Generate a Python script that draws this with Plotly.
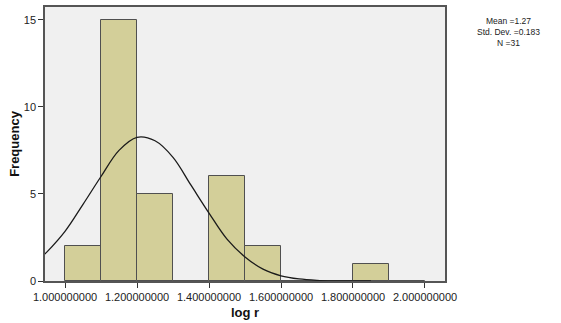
import plotly.graph_objects as go

# Histogram bins (lower edges) and frequencies
bin_starts = [1.0, 1.1, 1.2, 1.3, 1.4, 1.5, 1.6, 1.7, 1.8, 1.9]
counts = [2, 15, 5, 0, 6, 2, 0, 0, 1, 0]
bin_width = 0.1

# Normal curve
curve_x = [0.944, 0.95, 1.0, 1.05, 1.1, 1.15, 1.2, 1.25, 1.3, 1.35, 1.4, 1.45, 1.5,
           1.55, 1.6, 1.65, 1.7, 1.75, 1.8, 1.85]
curve_y = [1.55, 1.67, 2.85, 4.4, 6.0, 7.5, 8.25, 8.05, 7.1, 5.5, 3.9, 2.4, 1.38,
           0.68, 0.3, 0.12, 0.04, 0.01, 0.0, 0.0]

x_ticks = [1.0, 1.2, 1.4, 1.6, 1.8, 2.0]
x_ticktext = ["1.000000000", "1.200000000", "1.400000000", "1.600000000",
              "1.800000000", "2.000000000"]
y_ticks = [0, 5, 10, 15]

stats_lines = ["Mean =1.27", "Std. Dev. =0.183", "N =31"]

fig = go.Figure()
fig.add_trace(go.Bar(
    x=bin_starts, y=counts, width=bin_width, offset=0,
    marker=dict(color="#D3CF99", line=dict(color="#505050", width=1)),
    hoverinfo="x+y", showlegend=False,
))
fig.add_trace(go.Scatter(
    x=curve_x, y=curve_y, mode="lines", line=dict(color="#1a1a1a", width=1.3, shape="spline"),
    showlegend=False, hoverinfo="skip",
))

font_family = "Liberation Sans, Arial, sans-serif"

fig.update_layout(
    width=561, height=323,
    margin=dict(l=45, r=116, t=7, b=42),
    paper_bgcolor="white", plot_bgcolor="#F0F0F0",
    bargap=0,
    font=dict(family=font_family, size=11, color="#222222"),
    xaxis=dict(
        range=[0.9444, 2.0556], tickvals=x_ticks, ticktext=x_ticktext,
        showgrid=False, zeroline=False, showline=True, mirror=True,
        linecolor="#555555", linewidth=1.5,
        ticks="outside", ticklen=5, tickcolor="#333333",
        tickfont=dict(size=11, color="#222222"),
        title=dict(text="<b>log r</b>", font=dict(size=13, color="#111111"), standoff=6),
        automargin=False,
    ),
    yaxis=dict(
        range=[0, 15.73], tickvals=y_ticks,
        showgrid=False, zeroline=False, showline=True, mirror=True,
        linecolor="#555555", linewidth=1.5,
        ticks="outside", ticklen=5, tickcolor="#333333",
        tickfont=dict(size=11, color="#222222"),
        title=dict(text="<b>Frequency</b>", font=dict(size=13, color="#111111"), standoff=1),
        automargin=False,
    ),
)

fig.add_annotation(
    text="<br>".join(stats_lines), xref="paper", yref="paper",
    x=1.1575, y=0.909, xanchor="center", yanchor="middle", align="center",
    showarrow=False, font=dict(size=8.5, color="#222222", family=font_family),
)

fig.write_html("out.html", config={"displayModeBar": False},
               post_script="document.body.style.margin='0';")
